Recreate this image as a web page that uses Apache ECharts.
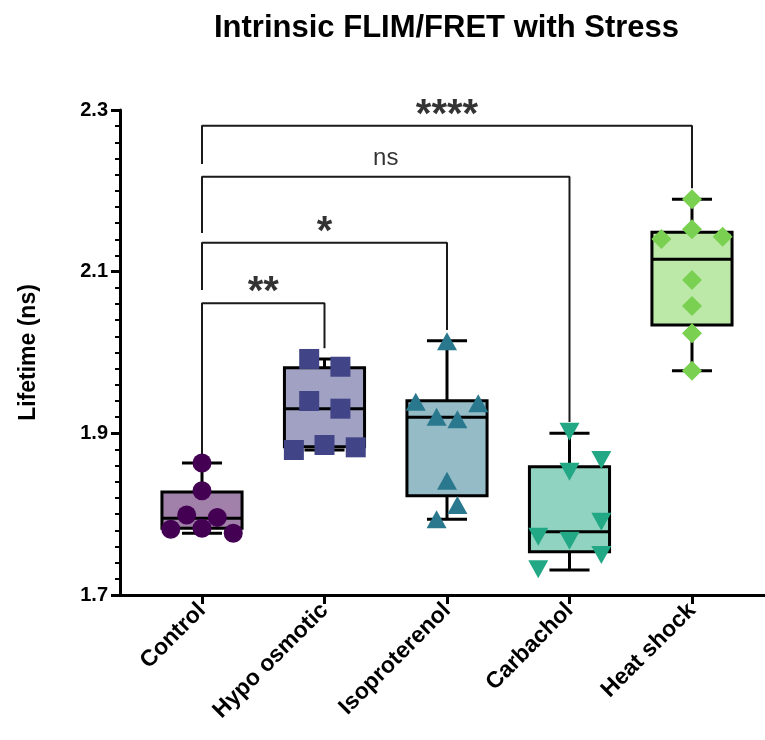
<!DOCTYPE html>
<html><head><meta charset="utf-8">
<script src="https://cdn.jsdelivr.net/npm/echarts@6/dist/echarts.min.js"></script>
<style>html,body{margin:0;padding:0;background:#fff}#c{width:765px;height:740px}</style>
</head><body><div id="c"></div><script>
const categories = ['Control', 'Hypo osmotic', 'Isoproterenol', 'Carbachol', 'Heat shock'];
const colors = ['#440154', '#414487', '#2A788E', '#22A884', '#7AD151'];
const fills = ['#A180A9', '#A0A1C3', '#94BBC6', '#90D3C1', '#BCE8A8'];
const symbols = ['circle', 'rect', 'triangle', 'triangle', 'diamond'];
const symbolRotations = [0, 0, 0, 180, 0];

// individual measurements (ns)
const valsControl = [1.8633, 1.829, 1.799, 1.796, 1.7813, 1.7825, 1.7763];
const valsHypo = [1.992, 1.9824, 1.940, 1.9305, 1.8794, 1.8856, 1.8827];
const valsIso = [2.0140, 1.9391, 1.9372, 1.9206, 1.9174, 1.8414, 1.8113, 1.7936];
const valsCarb = [1.902, 1.867, 1.8525, 1.7907, 1.7721, 1.7672, 1.7495, 1.7318];
const valsHeat = [2.1895, 2.1404, 2.1524, 2.1433, 2.0897, 2.0575, 2.0238, 1.9775];

// horizontal jitter of each point (in category units)
const jitControl = [0, 0, -0.125, 0.125, -0.255, 0, 0.255];
const jitHypo = [-0.125, 0.13, -0.125, 0.13, -0.25, 0, 0.255];
const jitIso = [0, -0.255, 0.255, -0.085, 0.085, 0, 0.085, -0.085];
const jitCarb = [0, 0.26, 0, 0.26, -0.255, 0, 0.26, -0.255];
const jitHeat = [0, -0.25, 0, 0.25, 0, 0, 0, 0];

// box stats: [min, Q1, median, Q3, max]
const boxControl = [1.7763, 1.7825, 1.795, 1.8274, 1.8633];
const boxHypo = [1.8794, 1.8835, 1.9305, 1.9812, 1.992];
const boxIso = [1.7936, 1.8228, 1.9198, 1.9404, 2.0145];
const boxCarb = [1.7309, 1.7536, 1.7783, 1.8587, 1.900];
const boxHeat = [1.9775, 2.034, 2.1153, 2.1487, 2.1895];

// significance brackets: [groupFrom, groupTo, top, leftLegEnd, rightLegEnd, label]
const bracketHypo = [0, 1, 2.0609, 1.8732, 2.0052, '**'];
const bracketIso = [0, 2, 2.1358, 2.0774, 2.0279, '*'];
const bracketCarb = [0, 3, 2.2175, 2.1478, 1.914, 'ns'];
const bracketHeat = [0, 4, 2.2806, 2.2332, 2.2031, '****'];

const yTicks = [1.7, 1.9, 2.1, 2.3];

const allVals = [valsControl, valsHypo, valsIso, valsCarb, valsHeat];
const allJit = [jitControl, jitHypo, jitIso, jitCarb, jitHeat];
const allBox = [boxControl, boxHypo, boxIso, boxCarb, boxHeat];
const allBrackets = [bracketHypo, bracketIso, bracketCarb, bracketHeat];

const FONT = 'Liberation Sans, Arial, sans-serif';

const series = [];
// boxes
series.push({
  type: 'custom',
  z: 2,
  data: allBox.map((b, i) => [i].concat(b)),
  encode: { x: 0, y: [1, 2, 3, 4, 5] },
  renderItem: function (params, api) {
    const i = api.value(0);
    const cx = api.coord([i, api.value(3)])[0];
    const yMin = api.coord([i, api.value(1)])[1];
    const yQ1 = api.coord([i, api.value(2)])[1];
    const yMed = api.coord([i, api.value(3)])[1];
    const yQ3 = api.coord([i, api.value(4)])[1];
    const yMax = api.coord([i, api.value(5)])[1];
    const hw = api.size([1, 0])[0] * 0.327;
    const cap = hw / 2;
    const ls = { stroke: '#000', lineWidth: 3 };
    return {
      type: 'group',
      children: [
        { type: 'line', shape: { x1: cx, y1: yMax, x2: cx, y2: yQ3 }, style: ls },
        { type: 'line', shape: { x1: cx, y1: yQ1, x2: cx, y2: yMin }, style: ls },
        { type: 'line', shape: { x1: cx - cap, y1: yMax, x2: cx + cap, y2: yMax }, style: ls },
        { type: 'line', shape: { x1: cx - cap, y1: yMin, x2: cx + cap, y2: yMin }, style: ls },
        { type: 'rect', shape: { x: cx - hw, y: yQ3, width: 2 * hw, height: yQ1 - yQ3 },
          style: { fill: fills[i], stroke: '#000', lineWidth: 3 } },
        { type: 'line', shape: { x1: cx - hw, y1: yMed, x2: cx + hw, y2: yMed }, style: ls }
      ]
    };
  }
});
// points
allVals.forEach((vals, g) => {
  series.push({
    type: 'scatter',
    z: 5,
    symbol: symbols[g],
    symbolRotate: symbolRotations[g],
    symbolSize: g === 0 ? 19 : (g === 2 || g === 3 ? [20, 18] : 20),
    itemStyle: { color: colors[g], opacity: 1 },
    data: vals.map((v, k) => [g + allJit[g][k], v])
  });
});
// brackets
allBrackets.forEach(b => {
  series.push({
    type: 'line',
    z: 3,
    symbol: 'none',
    silent: true,
    lineStyle: { color: '#1a1a1a', width: 2 },
    data: [[b[0], b[3]], [b[0], b[2]], [b[1], b[2]], [b[1], b[4]]]
  });
});
// bracket labels
series.push({
  type: 'scatter',
  symbolSize: 0,
  silent: true,
  data: allBrackets.map(b => ({
    value: [(b[0] + b[1]) / 2, b[2]],
    name: b[5],
    label: b[5] === 'ns'
      ? { fontSize: 24, fontWeight: 'normal', offset: [0, -18] }
      : { fontSize: 40, fontWeight: 'bold', offset: [0, -10] }
  })),
  label: {
    show: true, position: 'inside', color: '#000', fontFamily: FONT,
    verticalAlign: 'middle', formatter: p => p.name
  }
});

const chart = echarts.init(document.getElementById('c'), null, { renderer: 'canvas' });
chart.setOption({
  backgroundColor: '#fff',
  animation: false,
  title: {
    text: 'Intrinsic FLIM/FRET with Stress',
    left: 209, top: 8,
    textStyle: { fontFamily: FONT, fontSize: 31, fontWeight: 'bold', color: '#000' }
  },
  grid: { left: 120, right: 0, top: 110, bottom: 145 },
  xAxis: {
    type: 'value',
    min: -0.6694, max: 4.596,
    splitLine: { show: false },
    axisLine: { show: true, onZero: false, lineStyle: { color: '#000', width: 3 } },
    axisTick: { show: true, customValues: [0, 1, 2, 3, 4], length: 9, lineStyle: { color: '#000', width: 3 } },
    axisLabel: {
      show: true, customValues: [0, 1, 2, 3, 4],
      formatter: v => categories[Math.round(v)],
      rotate: 45, margin: 12,
      fontFamily: FONT, fontSize: 23, fontWeight: 'bold', color: '#000'
    }
  },
  yAxis: {
    type: 'value',
    min: 1.7, max: 2.3, interval: 0.2,
    name: 'Lifetime (ns)', nameLocation: 'middle', nameGap: 80,
    nameTextStyle: { fontFamily: FONT, fontSize: 23, fontWeight: 'bold', color: '#000' },
    splitLine: { show: false },
    axisLine: { show: true, onZero: false, lineStyle: { color: '#000', width: 3 } },
    axisTick: { show: true, length: 9, lineStyle: { color: '#000', width: 3 } },
    minorTick: { show: true, splitNumber: 10, length: 5, lineStyle: { color: '#000', width: 2 } },
    minorSplitLine: { show: false },
    axisLabel: {
      margin: 12, formatter: v => v.toFixed(1),
      fontFamily: FONT, fontSize: 20, fontWeight: 'bold', color: '#000'
    }
  },
  series: series
});
</script></body></html>
